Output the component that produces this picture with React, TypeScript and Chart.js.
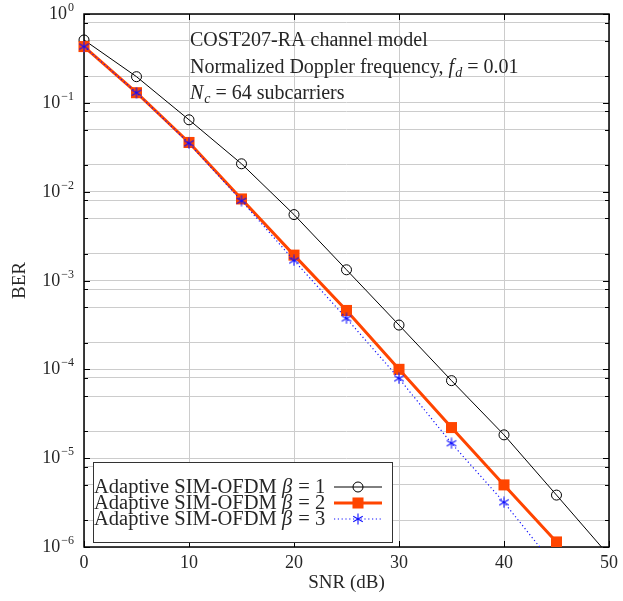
import React, { useEffect, useRef } from "react";
import { Chart, registerables } from "chart.js";

Chart.register(...registerables);

// ---------- data ----------
const SNR_DB = [0, 5, 10, 15, 20, 25, 30, 35, 40, 45, 50];
const BER_BETA1 = [0.51, 0.197, 0.0644, 0.0206, 0.00552, 0.00132, 3.15e-4, 7.46e-5, 1.83e-5, 3.84e-6, 8.0e-7];
const BER_BETA2 = [0.43, 0.13, 0.0358, 0.00828, 0.00193, 4.6e-4, 1.0e-4, 2.21e-5, 5.0e-6, 1.14e-6];
const BER_BETA3 = [0.43, 0.13, 0.035, 0.0079, 0.00168, 3.74e-4, 7.9e-5, 1.47e-5, 3.18e-6, 5.8e-7];
const BETAS = [1, 2, 3];
const LEGEND_PREFIX = "Adaptive SIM-OFDM ";
const X_TICKS = [0, 10, 20, 30, 40, 50];
const Y_EXPONENTS = [-6, -5, -4, -3, -2, -1, 0];
const Y_MINOR_MULTIPLIERS = [2, 5, 8];
const X_TITLE = "SNR (dB)";
const Y_TITLE = "BER";

type Run = { t: string; i?: boolean; sub?: boolean };
const NOTE_LINES: Run[][] = [
  [{ t: "COST207-RA channel model" }],
  [{ t: "Normalized Doppler frequency, " }, { t: "f", i: true }, { t: "d", i: true, sub: true }, { t: " = 0.01" }],
  [{ t: "N", i: true }, { t: "c", i: true, sub: true }, { t: " = 64 subcarriers" }],
];

// ---------- style ----------
const FONT = "'Liberation Serif', 'DejaVu Serif', serif";
const TEXT = "#262626";
const GRID = "#cccccc";
const ORANGE = "#ff4500";
const BLUE = "#1010ff";

function makeAsterisk(size: number, color: string, lw: number) {
  const c = document.createElement("canvas");
  c.width = size;
  c.height = size;
  const g = c.getContext("2d")!;
  g.strokeStyle = color;
  g.lineWidth = lw;
  const cx = size / 2, cy = size / 2, r = size / 2 - 0.5;
  for (const a of [90, 30, 150]) {
    const rad = (a * Math.PI) / 180;
    g.beginPath();
    g.moveTo(cx - r * Math.cos(rad), cy - r * Math.sin(rad));
    g.lineTo(cx + r * Math.cos(rad), cy + r * Math.sin(rad));
    g.stroke();
  }
  return c;
}

function drawRuns(ctx: CanvasRenderingContext2D, x: number, y: number, runs: Run[], size: number) {
  let cx = x;
  for (const r of runs) {
    const s = r.sub ? size * 0.7 : size;
    ctx.font = `${r.i ? "italic " : ""}${s}px ${FONT}`;
    ctx.fillText(r.t, cx, r.sub ? y + size * 0.22 : y);
    cx += ctx.measureText(r.t).width + (r.i && !r.sub ? 1 : 0);
  }
  return cx;
}

const yTickValues = (): { value: number; major: boolean }[] => {
  const out: { value: number; major: boolean }[] = [];
  for (const e of Y_EXPONENTS) {
    out.push({ value: Math.pow(10, e), major: true });
    if (e < 0) for (const m of Y_MINOR_MULTIPLIERS) out.push({ value: m * Math.pow(10, e), major: false });
  }
  return out;
};

const framePlugin = {
  id: "frame",
  beforeDatasetsDraw(chart: any) {
    const { ctx, chartArea: a, scales } = chart;
    ctx.save();
    ctx.strokeStyle = "#000";
    ctx.lineWidth = 1;
    for (const t of yTickValues()) {
      const y = Math.round(scales.y.getPixelForValue(t.value)) + 0.5;
      const len = t.major ? 6 : 4;
      ctx.beginPath();
      ctx.moveTo(a.left, y);
      ctx.lineTo(a.left + len, y);
      ctx.moveTo(a.right, y);
      ctx.lineTo(a.right - len, y);
      ctx.stroke();
    }
    for (const v of X_TICKS) {
      const x = Math.round(scales.x.getPixelForValue(v)) + 0.5;
      ctx.beginPath();
      ctx.moveTo(x, a.bottom);
      ctx.lineTo(x, a.bottom - 6);
      ctx.moveTo(x, a.top);
      ctx.lineTo(x, a.top + 6);
      ctx.stroke();
    }
    ctx.lineWidth = 1.5;
    ctx.strokeRect(a.left, a.top, a.right - a.left, a.bottom - a.top);
    // y tick labels 10^e
    ctx.fillStyle = TEXT;
    ctx.textBaseline = "alphabetic";
    for (const e of Y_EXPONENTS) {
      const y = scales.y.getPixelForValue(Math.pow(10, e));
      const exp = e < 0 ? "\u2212" + String(-e) : String(e);
      ctx.font = `12px ${FONT}`;
      const we = ctx.measureText(exp).width;
      ctx.font = `18px ${FONT}`;
      const wb = ctx.measureText("10").width;
      const right = a.left - 10;
      ctx.fillText("10", right - we - wb - 1, y + 5);
      ctx.font = `12px ${FONT}`;
      ctx.fillText(exp, right - we, y - 3);
    }
    ctx.restore();
  },
  afterDatasetsDraw(chart: any) {
    const { ctx, chartArea: a } = chart;
    ctx.save();
    // notes
    ctx.fillStyle = TEXT;
    ctx.textBaseline = "alphabetic";
    const nx = a.left + 106;
    const baselines = [46, 72.5, 99];
    NOTE_LINES.forEach((runs, k) => drawRuns(ctx, nx, baselines[k], runs, 20));
    // legend
    const bx = a.left + 9, by = a.bottom - 85, bw = 299, bh = 80;
    ctx.fillStyle = "#fff";
    ctx.fillRect(bx, by, bw, bh);
    ctx.strokeStyle = "#333";
    ctx.lineWidth = 1;
    ctx.strokeRect(bx + 0.5, by + 0.5, bw, bh);
    const ds = chart.data.datasets;
    const rows = [by + 25, by + 41, by + 57];
    BETAS.forEach((b, k) => {
      const d = ds[k];
      const y = rows[k];
      ctx.fillStyle = TEXT;
      ctx.textBaseline = "middle";
      drawRuns(ctx, bx + 1, y + 1, [{ t: LEGEND_PREFIX }, { t: "β", i: true }, { t: ` = ${b}` }], 20.5);
      const lx0 = bx + 241, lx1 = bx + 289, mx = (lx0 + lx1) / 2;
      ctx.strokeStyle = d.borderColor;
      ctx.lineWidth = d.borderWidth;
      ctx.setLineDash(d.borderDash || []);
      ctx.beginPath();
      ctx.moveTo(lx0, y);
      ctx.lineTo(lx1, y);
      ctx.stroke();
      ctx.setLineDash([]);
      const ps = d.pointStyle;
      if (ps === "circle") {
        ctx.strokeStyle = d.pointBorderColor;
        ctx.lineWidth = d.pointBorderWidth;
        ctx.beginPath();
        ctx.arc(mx, y, d.pointRadius, 0, Math.PI * 2);
        ctx.stroke();
      } else if (ps === "rect") {
        const s = d.pointRadius * Math.SQRT1_2;
        ctx.fillStyle = d.pointBackgroundColor;
        ctx.fillRect(mx - s, y - s, 2 * s, 2 * s);
      } else if (ps && ps.width) {
        ctx.drawImage(ps, mx - ps.width / 2, y - ps.height / 2);
      }
    });
    ctx.restore();
  },
};

export default function App() {
  const ref = useRef<HTMLCanvasElement | null>(null);
  useEffect(() => {
    if (!ref.current) return;
    const asterisk = makeAsterisk(12, BLUE, 1.1);
    const clip = { left: 12, top: 12, right: 12, bottom: 0 };
    const chart = new Chart(ref.current, {
      type: "line",
      data: {
        datasets: [
          {
            label: "beta1",
            data: BER_BETA1.map((v, i) => ({ x: SNR_DB[i], y: v })),
            borderColor: "#000",
            borderWidth: 1,
            pointStyle: "circle",
            pointRadius: 5,
            pointBorderColor: "#000",
            pointBorderWidth: 1,
            pointBackgroundColor: "rgba(0,0,0,0)",
            tension: 0,
            order: 2,
            clip,
          } as any,
          {
            label: "beta2",
            data: BER_BETA2.map((v, i) => ({ x: SNR_DB[i], y: v })),
            borderColor: ORANGE,
            borderWidth: 3,
            pointStyle: "rect",
            pointRadius: 7.8,
            pointBorderWidth: 0,
            pointBorderColor: ORANGE,
            pointBackgroundColor: ORANGE,
            tension: 0,
            order: 1,
            clip,
          } as any,
          {
            label: "beta3",
            data: BER_BETA3.map((v, i) => ({ x: SNR_DB[i], y: v })),
            borderColor: BLUE,
            borderWidth: 1.2,
            borderDash: [1.2, 2.6],
            pointStyle: asterisk,
            pointRadius: 6,
            tension: 0,
            order: 0,
            clip,
          } as any,
        ],
      },
      options: {
        animation: false,
        responsive: true,
        maintainAspectRatio: false,
        layout: { padding: { left: 0, top: 14, right: 10, bottom: 0 } },
        plugins: { legend: { display: false }, tooltip: { enabled: false } },
        scales: {
          x: {
            type: "linear",
            min: 0,
            max: 50,
            afterBuildTicks: (s: any) => {
              s.ticks = X_TICKS.map((v) => ({ value: v }));
            },
            afterFit: (s: any) => {
              s.height = 54;
            },
            grid: { color: GRID, lineWidth: 1, drawTicks: false },
            border: { display: false },
            ticks: { font: { family: FONT, size: 18 }, color: TEXT, padding: 5, maxRotation: 0 },
            title: {
              display: true,
              text: X_TITLE,
              font: { family: FONT, size: 19 },
              color: TEXT,
              padding: { top: 0, bottom: 7 },
            },
          },
          y: {
            type: "logarithmic",
            min: 1e-6,
            max: 1,
            afterBuildTicks: (s: any) => {
              s.ticks = yTickValues();
            },
            afterFit: (s: any) => {
              s.width = 84;
            },
            grid: { color: GRID, lineWidth: 1, drawTicks: false },
            border: { display: false },
            ticks: { display: false },
            title: {
              display: true,
              text: Y_TITLE,
              font: { family: FONT, size: 19 },
              color: TEXT,
              padding: { top: 9, bottom: 0 },
            },
          },
        },
      } as any,
      plugins: [framePlugin],
    });
    return () => chart.destroy();
  }, []);
  return (
    <div style={{ position: "fixed", left: 0, top: 0, width: 623, height: 601, background: "#fff" }}>
      <canvas ref={ref} />
    </div>
  );
}
